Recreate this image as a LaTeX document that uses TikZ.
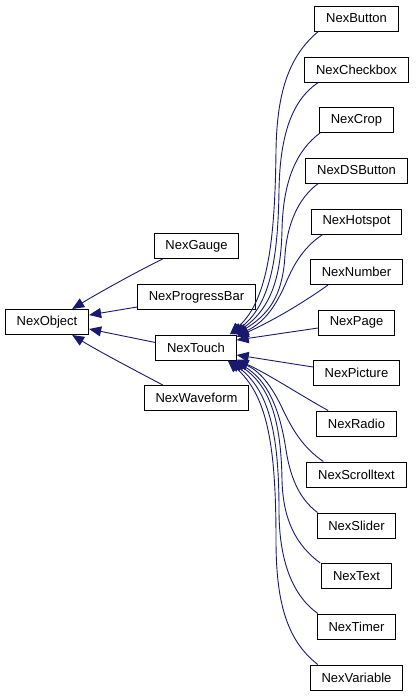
\documentclass[tikz,border=0pt]{standalone}
\usepackage{fontspec}
\setmainfont{Liberation Sans}
\usetikzlibrary{arrows.meta}
\definecolor{edgeblue}{HTML}{191970}
\tikzset{
  cls/.style={draw=black, fill=white, line width=1pt, inner xsep=11.3pt, inner ysep=0pt,
    minimum height=25pt, font=\fontsize{13}{15}\selectfont},
  inh/.style={draw=edgeblue, line width=0.9pt,
    -{Triangle[length=12pt,width=10pt,fill=edgeblue,line width=0.9pt]}}
}
\begin{document}
\begin{tikzpicture}[x=1pt,y=-1pt]
\useasboundingbox (0,0) rectangle (415,696);
\node[cls] (obj) at (47,322) {NexObject};
\node[cls] (gauge) at (196.5,246) {NexGauge};
\node[cls] (prog) at (196.5,297) {NexProgressBar};
\node[cls] (touch) at (196,347.5) {NexTouch};
\node[cls] (wave) at (196.5,398) {NexWaveform};

\node[cls] (btn) at (356.5,18.5) {NexButton};
\node[cls] (chk) at (356.5,69.5) {NexCheckbox};
\node[cls] (crop) at (356.5,120) {NexCrop};
\node[cls] (dsb) at (356.5,170.5) {NexDSButton};
\node[cls] (hot) at (356.5,221.5) {NexHotspot};
\node[cls] (num) at (356.5,272) {NexNumber};
\node[cls] (page) at (356.5,322.5) {NexPage};
\node[cls] (pic) at (356.5,373) {NexPicture};
\node[cls] (radio) at (356.5,423.5) {NexRadio};
\node[cls] (scroll) at (356.5,474.5) {NexScrolltext};
\node[cls] (slider) at (356.5,525.5) {NexSlider};
\node[cls] (text) at (356.5,576) {NexText};
\node[cls] (timer) at (356.5,626.5) {NexTimer};
\node[cls] (var) at (356.5,677.5) {NexVariable};

% to NexObject
\draw[inh] ([xshift=9pt]gauge.south west) .. controls (140,270) and (100,292) .. ([xshift=-17pt]obj.north east);
\draw[inh] ([yshift=-10pt]prog.west) -- ([yshift=7pt]obj.east);
\draw[inh] ([yshift=5pt]touch.west) -- ([yshift=-7pt]obj.east);
\draw[inh] ([xshift=19pt]wave.north west) .. controls (140,373) and (100,352) .. ([xshift=-17pt]obj.south east);

% to NexTouch
\draw[inh] ([xshift=4pt]btn.south west) .. controls (290,55) and (277,90) .. (276,150) .. controls (275,240) and (268,300) .. ([xshift=-7pt]touch.north east);
\draw[inh] ([xshift=14pt]chk.south west) .. controls (292,100) and (280,135) .. (279,190) .. controls (278,260) and (270,305) .. ([xshift=-5pt]touch.north east);
\draw[inh] ([xshift=1pt]crop.south west) .. controls (297,150) and (283,180) .. (282,230) .. controls (281,275) and (272,308) .. ([xshift=-3pt]touch.north east);
\draw[inh] ([xshift=13pt]dsb.south west) .. controls (298,198) and (287,225) .. (285,255) .. controls (283,290) and (273,312) .. ([xshift=-1pt]touch.north east);
\draw[inh] ([xshift=12pt]hot.south west) .. controls (302,248) and (292,268) .. (285,285) .. controls (276,305) and (265,322) .. ([yshift=-1pt]touch.north east);
\draw[inh] ([xshift=18pt]num.south west) .. controls (300,305) and (270,322) .. ([yshift=-2.5pt]touch.north east);
\draw[inh] ([yshift=-5.5pt]page.west) -- ([yshift=7.5pt]touch.east);
\draw[inh] ([yshift=6pt]pic.west) -- ([yshift=-7.5pt]touch.east);
\draw[inh] ([xshift=12pt]radio.north west) .. controls (300,395) and (270,375) .. ([yshift=1pt]touch.south east);
\draw[inh] ([xshift=17pt]scroll.north west) .. controls (302,447) and (292,428) .. (284,412) .. controls (274,390) and (262,372) .. ([xshift=-1pt]touch.south east);
\draw[inh] ([xshift=1pt]slider.north west) .. controls (298,498) and (290,475) .. (286,450) .. controls (280,410) and (268,380) .. ([xshift=-3pt]touch.south east);
\draw[inh] ([xshift=-1pt]text.north west) .. controls (296,545) and (283,520) .. (282,480) .. controls (281,420) and (270,385) .. ([xshift=-5pt]touch.south east);
\draw[inh] ([xshift=1pt]timer.north west) .. controls (292,595) and (279,560) .. (279,510) .. controls (279,430) and (268,390) .. ([xshift=-7pt]touch.south east);
\draw[inh] ([xshift=8pt]var.north west) .. controls (286,640) and (276,600) .. (276,540) .. controls (276,440) and (266,395) .. ([xshift=-9pt]touch.south east);
\end{tikzpicture}
\end{document}
